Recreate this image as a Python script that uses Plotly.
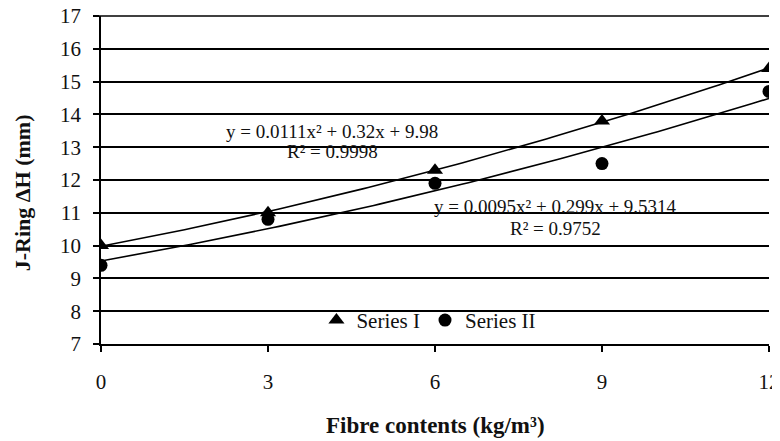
import numpy as np
import plotly.graph_objects as go

# ---- data ----
fibre = [0, 3, 6, 9, 12]
series_1 = [10.0, 11.0, 12.3, 13.8, 15.4]
series_2 = [9.4, 10.8, 11.9, 12.5, 14.7]
# trendline coefficients shown on the chart (x^2, x, const)
trend_1 = [0.0111, 0.32, 9.98]
trend_2 = [0.0095, 0.299, 9.5314]
eq_1 = "y = 0.0111x² + 0.32x + 9.98"
r2_1 = "R² = 0.9998"
eq_2 = "y = 0.0095x² + 0.299x + 9.5314"
r2_2 = "R² = 0.9752"
x_ticks = [0, 3, 6, 9, 12]
y_ticks = list(range(7, 18))

FONT = "Liberation Serif"
xs = np.linspace(0, 12, 121)

fig = go.Figure()
fig.add_trace(go.Scatter(x=xs, y=np.polyval(trend_1, xs), mode="lines",
                         line=dict(color="black", width=1.6), showlegend=False, hoverinfo="skip"))
fig.add_trace(go.Scatter(x=xs, y=np.polyval(trend_2, xs), mode="lines",
                         line=dict(color="black", width=1.6), showlegend=False, hoverinfo="skip"))
fig.add_trace(go.Scatter(x=fibre, y=series_1, mode="markers", name="Series I",
                         marker=dict(symbol="triangle-up", size=14, color="black")))
fig.add_trace(go.Scatter(x=fibre, y=series_2, mode="markers", name="Series II",
                         marker=dict(symbol="circle", size=13, color="black")))

ann_font = dict(family=FONT, size=19, color="#111")
annotations = [
    dict(x=4.15, y=13.49, xref="x", yref="y", text=eq_1, showarrow=False, font=ann_font),
    dict(x=4.15, y=12.88, xref="x", yref="y", text=r2_1, showarrow=False, font=ann_font),
    dict(x=8.16, y=11.18, xref="x", yref="y", text=eq_2, showarrow=False, font=ann_font),
    dict(x=8.16, y=10.51, xref="x", yref="y", text=r2_2, showarrow=False, font=ann_font),
    dict(x=-0.118, y=0.46, xref="paper", yref="paper", text="<b>J-Ring ΔH (mm)</b>",
         xanchor="center", yanchor="middle",
         textangle=-90, showarrow=False, font=dict(family=FONT, size=22, color="#111")),
    dict(x=0.5, y=-0.247, xref="paper", yref="paper", text="<b>Fibre contents (kg/m³)</b>",
         xanchor="center", yanchor="middle",
         showarrow=False, font=dict(family=FONT, size=23, color="#111")),
]

# top frame gridline (plotly omits the grid line lying on the plot edge)
shapes = [dict(type="line", xref="paper", yref="paper", x0=-0.009, x1=1, y0=1, y1=1,
               line=dict(color="black", width=1.6))]

# page body has an 8px margin, so the figure is offset by 8px in the window
fig.update_layout(
    width=772, height=433,
    margin=dict(l=93, r=11, t=8, b=97, autoexpand=False),
    paper_bgcolor="white", plot_bgcolor="white",
    font=dict(family=FONT, size=21, color="#111"),
    annotations=annotations,
    shapes=shapes,
    legend=dict(orientation="h", x=0.3225, y=0.072, xanchor="left", yanchor="middle",
                bgcolor="rgba(0,0,0,0)", font=dict(family=FONT, size=21, color="#111"),
                itemwidth=30, tracegroupgap=0),
    xaxis=dict(range=[0, 12], tickvals=x_ticks, showgrid=False, zeroline=False, automargin=False,
               showline=True, linecolor="black", linewidth=1.6, ticklabeloverflow="allow",
               ticks="outside", ticklen=6, tickwidth=1.6, tickcolor="black",
               ticklabelstandoff=12, tickfont=dict(family=FONT, size=21, color="#111")),
    yaxis=dict(range=[7, 17], tickvals=y_ticks, showgrid=True, gridcolor="black", gridwidth=1.6,
               zeroline=False, showline=True, linecolor="black", linewidth=1.6, automargin=False,
               ticklabeloverflow="allow",
               ticks="outside", ticklen=6, tickwidth=1.6, tickcolor="black",
               ticklabelstandoff=8, tickfont=dict(family=FONT, size=21, color="#111")),
)

fig.write_html("out.html")
